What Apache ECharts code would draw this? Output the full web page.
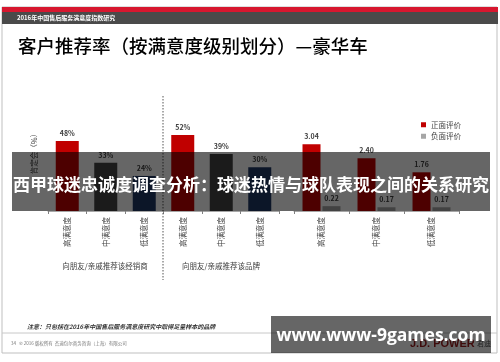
<!DOCTYPE html>
<html>
<head>
<meta charset="utf-8">
<title>客户推荐率</title>
<script src="https://cdn.jsdelivr.net/npm/echarts@6/dist/echarts.min.js"></script>
<style>
  html, body { margin: 0; padding: 0; background: #fff; }
  #chart { width: 500px; height: 362px; }
</style>
</head>
<body>
<div id="chart"></div>
<script>
// satisfaction levels and values
const levelNames = ['高满意度', '中满意度', '低满意度'];
const levelColors = ['#c00000', '#444444', '#1f3864'];
const dealerRates = [48, 33, 24];
const brandRates = [52, 39, 30];
const positiveScores = [3.04, 2.40, 1.76];
const negativeScores = [0.22, 0.17, 0.17];
const groupNames = ['向朋友/亲戚推荐该经销商', '向朋友/亲戚推荐该品牌'];
const legendNames = ['正面评价', '负面评价'];

const font = '"Noto Sans CJK SC", "Noto Sans", sans-serif';
const leftCats = levelNames.concat(levelNames);
const leftRates = dealerRates.concat(brandRates);

const chart = echarts.init(document.getElementById('chart'));

const catAxis = (gi, data) => ({
  type: 'category', gridIndex: gi, data: data,
  axisLine: { lineStyle: { color: '#a6a6a6', width: 1 } },
  axisTick: { show: true, length: 3, lineStyle: { color: '#808080' } },
  axisLabel: { rotate: 90, fontSize: 7.5, color: '#404040', margin: 6, fontFamily: font }
});

const valLabel = fmt => ({
  show: true, position: 'top', distance: 4, fontWeight: 'bold',
  fontSize: 7, color: '#404040', fontFamily: font, formatter: fmt
});

chart.setOption({
  animation: false,
  textStyle: { fontFamily: font },
  grid: [
    { left: 48, width: 231, top: 65, height: 146 },
    { left: 294, width: 165, top: 65, height: 146 }
  ],
  xAxis: [catAxis(0, leftCats), catAxis(1, levelNames)],
  yAxis: [
    { gridIndex: 0, min: 0, max: 100, show: false },
    { gridIndex: 1, min: 0, max: 6.64, show: false }
  ],
  legend: {
    data: legendNames, orient: 'vertical', left: 416, top: 116,
    itemWidth: 5, itemHeight: 5, itemGap: 4, icon: 'rect',
    textStyle: { fontSize: 7.5, color: '#404040', fontFamily: font }
  },
  series: [
    {
      name: '推荐率', type: 'bar', xAxisIndex: 0, yAxisIndex: 0, barWidth: 23,
      data: leftRates.map((v, i) => ({ value: v, itemStyle: { color: levelColors[i % 3] } })),
      label: valLabel(p => p.value + '%')
    },
    {
      name: legendNames[0], type: 'bar', xAxisIndex: 1, yAxisIndex: 1,
      barWidth: 18, barGap: '11%', itemStyle: { color: '#c00000' },
      data: positiveScores, label: valLabel(p => p.value.toFixed(2))
    },
    {
      name: legendNames[1], type: 'bar', xAxisIndex: 1, yAxisIndex: 1,
      barWidth: 18, barGap: '11%', itemStyle: { color: '#a6a6a6' },
      data: negativeScores, label: valLabel(p => p.value.toFixed(2))
    }
  ],
  graphic: [
    // slide frame and header
    { type: 'rect', z: 1, shape: { x: 2, y: 7, width: 495, height: 346 },
      style: { fill: 'none', stroke: '#bfbfbf', lineWidth: 1 } },
    { type: 'rect', z: 2, shape: { x: 2, y: 7, width: 496, height: 5 }, style: { fill: '#d7172f' } },
    { type: 'rect', z: 2, shape: { x: 2, y: 12, width: 496, height: 12 }, style: { fill: '#4a4a4a' } },
    { type: 'text', z: 3, left: 17, top: 15,
      style: { text: '2016年中国售后服务满意度指数研究', fill: '#fff', fontSize: 6, fontWeight: 'bold', fontFamily: font } },
    { type: 'text', z: 3, left: 18, top: 37,
      style: { text: '客户推荐率（按满意度级别划分）—豪华车', fill: '#000', fontSize: 18.5, fontWeight: 500, fontFamily: font } },
    // axis name
    { type: 'text', z: 3, x: 34, y: 152, rotation: Math.PI / 2,
      style: { text: '肯定会（%）', fill: '#404040', fontSize: 7.5, fontFamily: font, align: 'center', verticalAlign: 'middle' } },
    // divider
    { type: 'line', z: 3, shape: { x1: 163, y1: 96, x2: 163, y2: 280 },
      style: { stroke: '#555', lineWidth: 1, lineDash: [1.5, 1.5] } },
    { type: 'text', z: 3, x: 105, y: 266,
      style: { text: groupNames[0], fill: '#404040', fontSize: 7.5, fontFamily: font, align: 'center', verticalAlign: 'middle' } },
    { type: 'text', z: 3, x: 221, y: 266,
      style: { text: groupNames[1], fill: '#404040', fontSize: 7.5, fontFamily: font, align: 'center', verticalAlign: 'middle' } },
    // footer
    { type: 'text', z: 3, left: 27, top: 324,
      style: { text: '注意：只包括在2016年中国售后服务满意度研究中取得足量样本的品牌', fill: '#333', fontSize: 6, fontWeight: 'bold', fontStyle: 'italic', fontFamily: font } },
    { type: 'line', z: 2, shape: { x1: 2, y1: 333, x2: 497, y2: 333 }, style: { stroke: '#c8c8c8', lineWidth: 1 } },
    { type: 'text', z: 3, left: 11, top: 341,
      style: { text: '34   © 2016 版权所有  杰迪包尔商务咨询（上海）有限公司', fill: '#777', fontSize: 4.5, fontFamily: font } },
    { type: 'text', z: 3, left: 410, top: 338,
      style: { text: 'J.D. POWER', fill: '#9b1c1c', fontSize: 11, fontWeight: 'bold', fontFamily: 'Liberation Sans, sans-serif' } },
    { type: 'text', z: 3, left: 477, top: 340,
      style: { text: '君迪', fill: '#555', fontSize: 7, fontFamily: font } },
    // overlay banner
    { type: 'rect', z: 100, shape: { x: 12, y: 152, width: 478, height: 59 }, style: { fill: 'rgba(0,0,0,0.6)' } },
    { type: 'text', z: 101, x: 251, y: 185,
      style: { text: '西甲球迷忠诚度调查分析：球迷热情与球队表现之间的关系研究', fill: '#fff', fontSize: 17, fontWeight: 'bold', fontFamily: font, align: 'center', verticalAlign: 'middle' } },
    // watermark
    { type: 'rect', z: 100, shape: { x: 271, y: 316, width: 220, height: 37 }, style: { fill: 'rgba(0,0,0,0.6)' } },
    { type: 'text', z: 101, x: 381, y: 336,
      style: { text: 'www.www-9games.com', fill: '#fff', fontSize: 17.5, fontWeight: 'bold', fontFamily: '"Open Sans", "Noto Sans", sans-serif', align: 'center', verticalAlign: 'middle' } }
  ]
});
</script>
</body>
</html>
